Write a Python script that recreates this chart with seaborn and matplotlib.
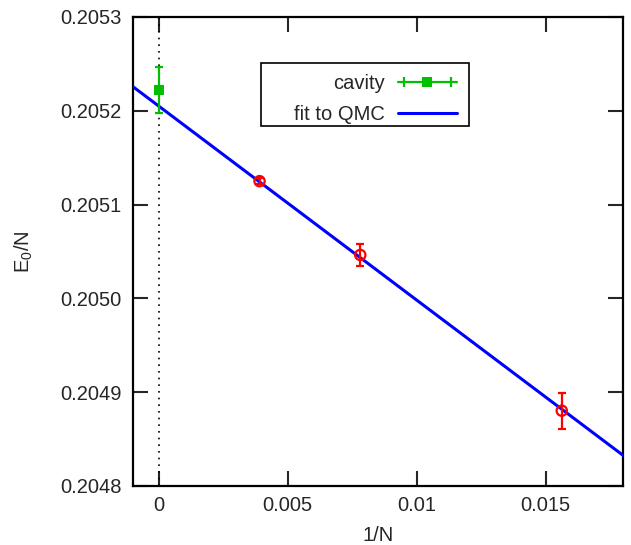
import matplotlib
matplotlib.use("Agg")
import matplotlib.pyplot as plt
import seaborn as sns
import numpy as np
import pandas as pd
from matplotlib.lines import Line2D
from matplotlib.patches import Rectangle
from matplotlib.legend_handler import HandlerLine2D, HandlerTuple

# QMC data
qmc_x = [1/256, 1/128, 1/64]
qmc_y = [0.205125, 0.2050463, 0.2048803]
qmc_err = [0.000003, 0.000012, 0.000019]

# cavity result
cav_x = [0.0]
cav_y = [0.2052222]
cav_err = [0.000025]

# linear fit to QMC
fit_intercept = 0.205205
fit_slope = -0.02068
fit_range = [-0.001, 0.018]

xticks = [0, 0.005, 0.01, 0.015]
xtick_labels = ["0", "0.005", "0.01", "0.015"]
yticks = [0.2048, 0.2049, 0.2050, 0.2051, 0.2052, 0.2053]
ytick_labels = ["0.2048", "0.2049", "0.2050", "0.2051", "0.2052", "0.2053"]

sns.set_style("ticks")
plt.rcParams['font.family'] = ['Liberation Sans', 'DejaVu Sans']
plt.rcParams['mathtext.fontset'] = 'custom'
plt.rcParams['mathtext.rm'] = 'Liberation Sans'
plt.rcParams['mathtext.it'] = 'Liberation Sans'

FS = 14.5

fig = plt.figure(figsize=(6.31, 5.45), dpi=100)
ax = fig.add_axes([133/631, 1 - 486/545, 490/631, 469/545])

ax.set_xlim(fit_range)
ax.set_ylim(0.2048, 0.2053)

# vertical dotted line at x=0
ax.axvline(0, color='black', linestyle=(0, (1, 3)), linewidth=1.2, zorder=1)

# fit line
fit_df = pd.DataFrame({"x": fit_range,
                       "y": [fit_intercept + fit_slope * v for v in fit_range]})
sns.lineplot(data=fit_df, x="x", y="y", ax=ax, color='#0000ff', linewidth=2.2, zorder=3)

# QMC points with error bars
ax.errorbar(qmc_x, qmc_y, yerr=qmc_err, fmt='none', ecolor='#ff0000',
            elinewidth=1.6, capsize=3, capthick=1.6, zorder=4)
sns.scatterplot(x=qmc_x, y=qmc_y, ax=ax, marker='o', s=55,
                facecolor='none', edgecolor='#ff0000', linewidth=1.6, zorder=5)

# cavity point
ax.errorbar(cav_x, cav_y, yerr=cav_err, fmt='none', ecolor='#00c000',
            elinewidth=1.6, capsize=3, capthick=1.6, zorder=4)
sns.scatterplot(x=cav_x, y=cav_y, ax=ax, marker='s', s=55,
                color='#00c000', edgecolor='#00c000', linewidth=0, zorder=5)

# legend (gnuplot-style key: text right-aligned, sample on the right)
cav_line = Line2D([], [], color='#00c000', linewidth=1.6, marker='s',
                  markersize=7, markeredgewidth=0)
cav_caps = Line2D([], [], color='#00c000', linestyle='none', marker='|',
                  markersize=7, markeredgewidth=1.6)
fit_line = Line2D([], [], color='#0000ff', linewidth=2.2)
leg = ax.legend([(cav_line, cav_caps), fit_line], ["cavity", "fit to QMC"],
                handler_map={cav_caps: HandlerLine2D(numpoints=2),
                             cav_line: HandlerLine2D(numpoints=1),
                             tuple: HandlerTuple(ndivide=1, pad=0)},
                markerfirst=False, loc='upper right',
                bbox_to_anchor=(0.661, 0.878), fontsize=FS,
                frameon=False, handlelength=2.93, borderpad=0,
                labelspacing=0.6, handletextpad=0.65, borderaxespad=0)
ax.add_patch(Rectangle((0.261, 0.768), 0.425, 0.134, transform=ax.transAxes,
                       facecolor='white', edgecolor='black', linewidth=1.2,
                       zorder=6))
leg.set_zorder(7)

ax.set_xticks(xticks)
ax.set_xticklabels(xtick_labels)
ax.set_yticks(yticks)
ax.set_yticklabels(ytick_labels)
ax.tick_params(direction='in', length=11, width=1.5, labelsize=FS,
               top=True, right=True)
ax.tick_params(axis='x', pad=7)
ax.tick_params(axis='y', pad=8)
for sp in ax.spines.values():
    sp.set_visible(True)
    sp.set_linewidth(1.6)
    sp.set_color('black')

ax.set_xlabel("1/N", fontsize=FS, labelpad=8)
ax.set_ylabel(r"E$_0$/N", fontsize=FS, labelpad=18)

fig.savefig("out.png", dpi=100)
